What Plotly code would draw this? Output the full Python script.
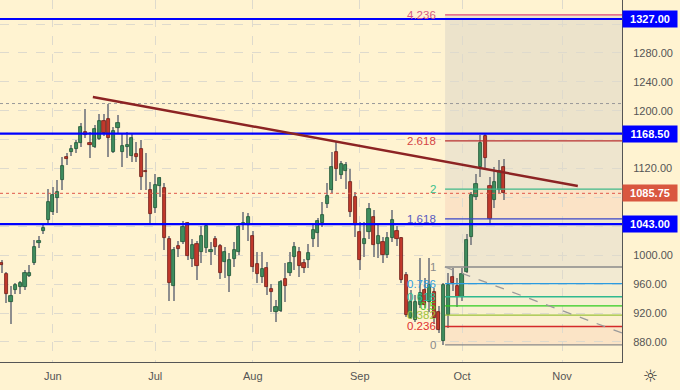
import plotly.graph_objects as go

# ---------------- data (bar index, OHLC) ----------------
opens = [989, 974, 935, 951.5, 955.7, 956.5, 972, 990, 1016.6, 1033.2,
         1049.3, 1060.5, 1079, 1103.8, 1136, 1143.4, 1147.6, 1155, 1170, 1155,
         1150.4, 1161.4, 1185.4, 1188, 1142.6, 1175.7, 1143.4, 1150.4, 1138, 1140,
         1147, 1117, 1090.4, 1066, 1096.3, 1093, 1022, 957, 1012.5, 1019,
         1044, 994.5, 1015.6, 1004, 1009.7, 1005, 1022, 1013, 991, 972,
         994.5, 1004, 1043, 1042, 1027, 988, 969.5, 982, 954, 922,
         923, 966.7, 976, 998, 1004, 989, 993, 1022, 1031, 1044,
         1071, 1090, 1142.6, 1111, 1117, 1101, 1080, 1032, 1015.6, 1032.7,
         1053.5, 1016, 1019, 1000, 1023.5, 1033, 1023.5, 973, 913, 910.5,
         931.4, 952, 936, 949, 921, 882, 917, 970, 957.5, 942,
         977, 1025, 1080, 1122, 1165, 1096, 1076, 1090.5, 1122.6]
highs = [993, 977, 957, 962, 964, 979, 986, 1021, 1027, 1043,
         1092, 1095, 1104, 1136.5, 1142, 1152, 1160, 1183.5, 1203, 1171,
         1180, 1195.5, 1195, 1209.4, 1177, 1194, 1169, 1171, 1169, 1157,
         1159.6, 1141.6, 1102, 1113, 1109, 1100, 1026, 1012, 1020, 1048,
         1046, 1023, 1020, 1040.5, 1043, 1018, 1026, 1015, 1011.5, 1003,
         1018, 1044, 1060, 1058, 1033, 1005, 1005, 991, 960, 938,
         966, 989, 1005, 1019, 1011.5, 995, 1015, 1044, 1051, 1074,
         1099.6, 1143, 1157, 1130, 1128.5, 1119, 1087, 1046.5, 1046.5, 1073,
         1062, 1042, 1025, 1032, 1063, 1040, 1025, 977, 952, 945,
         996, 968, 996, 955, 930, 961, 975, 982, 968, 982,
         1030, 1088, 1113, 1166.5, 1169, 1109, 1122.6, 1132, 1133]
lows = [975, 934, 905, 947, 947, 952, 970, 986, 1010, 1029,
        1045, 1056, 1058, 1090, 1125, 1137, 1142, 1150, 1163, 1134,
        1148, 1159.6, 1165, 1136.6, 1141, 1169, 1121.6, 1135, 1129.5, 1129.5,
        1090, 1090, 1044, 1058, 1081, 1008, 937, 937, 997, 1015,
        993, 984, 966, 990, 1003, 986, 1000, 967, 968, 949.6,
        984, 1001, 1035, 1020, 977, 961, 961, 945, 922, 908,
        922, 936, 972, 980, 970, 976, 982, 1011, 1011, 1039.6,
        1065, 1086, 1103, 1106, 1092, 1053.5, 1025, 979.6, 998, 1022,
        998, 996, 990, 996, 1019, 1013, 962, 915, 912, 908,
        926.6, 926.6, 922, 905, 893, 876, 899, 951, 928, 937,
        975, 1014, 1076.5, 1108, 1118, 1044, 1065, 1086, 1076.5]
closes = [986, 946, 944, 958.5, 961, 975.5, 976, 1011, 1019.8, 1037.4,
          1073.3, 1083, 1087.6, 1123, 1133, 1146.6, 1155, 1177, 1166, 1153,
          1174.3, 1185.4, 1168.8, 1162, 1171.6, 1182.6, 1151, 1152, 1162, 1136.5,
          1109, 1115, 1056.8, 1097, 1106.6, 1023.6, 962, 1008, 1009, 1039,
          999.5, 1014, 985.6, 1026, 1040.5, 1007, 1012, 975, 1004, 993.5,
          1008, 1038.7, 1045, 1052.6, 984, 973.7, 981, 956.6, 949.6, 928,
          962.6, 958, 989, 1011, 985.6, 982, 1003, 1035, 1047.5, 1056,
          1082, 1121.8, 1119.5, 1127, 1125, 1059.6, 1042, 993.5, 1022, 1064,
          1014, 1026, 1000, 1024, 1049, 1022, 966, 917.4, 936, 936,
          947.6, 931, 959, 913, 897, 959, 959, 962, 942, 974,
          1021, 1083, 1098.6, 1156, 1134, 1050, 1102, 1116, 1085.75]
bar_idx = list(range(len(closes)))

month_labels = ["Jun", "Jul", "Aug", "Sep", "Oct", "Nov"]
month_start_idx = [11, 33, 54, 77, 99, 120.5]

y_ticks = [880, 920, 960, 1000, 1040, 1080, 1120, 1160, 1200, 1240, 1280, 1320]
y_hidden = [1040, 1080, 1160, 1320]

# horizontal levels (blue) and current price
key_levels = [1327.00, 1168.50, 1043.00]
last_price = 1085.75
prev_high_level = 1210

# trendline (bar index, price)
trend_x = [19.6, 123.9]
trend_y = [1219.1, 1095.9]

# fib extension
fib_start_idx = 95.35
fib_zero = 876.0
fib_one = 983.8
fib_levels = [0, 0.236, 0.382, 0.5, 0.618, 0.786, 1, 1.618, 2, 2.618, 4.236]
fib_label_text = ["0", "0.236", "0.382", "0.5", "0.618", "0.786", "1", "1.618", "2", "2.618", "4.236"]
fib_colors = ["#8a8a8a", "#d42a2a", "#9bc23a", "#2ecc1f", "#2fb98f", "#2a9be0",
              "#8a8a8a", "#3a44c8", "#3cb98a", "#b83030", "#e0457a"]
fib_label_colors = ["#8a8a8a", "#e03030", "#9bc23a", "#4ccc22", "#2bbf94", "#2f9ddf",
                    "#8a8a8a", "#5a5ac0", "#3cc08c", "#d44545", "#d65a80"]
fib_zone_colors = ["#fbe4c6", "#fbf0cf", "#f8f0d0", "#f6efd2", "#f5eed3", "#f2ead2",
                   "#efe6cf", "#fbe3c6", "#eee5ce", "#ece3cb"]
fib_diag_x = [95.3, 133.4]
fib_diag_y = [983.8, 892.5]

X_RANGE = [-0.37, 133.4]
Y_RANGE = [852.3, 1353.3]

BG = "#fff3d1"
AXIS_TXT = "#555555"

# ---------------- figure ----------------
fig = go.Figure()

wick_len = [h - l for h, l in zip(highs, lows)]
fig.add_trace(go.Bar(x=bar_idx, y=wick_len, base=lows, width=0.3,
                     marker=dict(color="#8e8e8e", line=dict(width=0)),
                     hoverinfo="skip"))

body_base = [min(o, c) for o, c in zip(opens, closes)]
body_len = [max(abs(c - o), 1.2) for o, c in zip(opens, closes)]
up = [c >= o for o, c in zip(opens, closes)]
fill_cols = ["#3f8d5e" if u else "#c2392c" for u in up]
edge_cols = ["#1d5534" if u else "#6f1c15" for u in up]
fig.add_trace(go.Bar(x=bar_idx, y=body_len, base=body_base, width=0.68,
                     marker=dict(color=fill_cols, line=dict(color=edge_cols, width=0.8)),
                     hoverinfo="skip"))

shapes = []
# fib zones
fib_prices = [fib_zero + lv * (fib_one - fib_zero) for lv in fib_levels]
for k in range(len(fib_prices) - 1):
    shapes.append(dict(type="rect", xref="x", yref="y", layer="below",
                       x0=fib_start_idx, x1=X_RANGE[1], y0=fib_prices[k], y1=fib_prices[k + 1],
                       fillcolor=fib_zone_colors[k], line=dict(width=0)))
# fib lines
for p, col in zip(fib_prices, fib_colors):
    shapes.append(dict(type="line", xref="x", yref="y", layer="above",
                       x0=fib_start_idx, x1=X_RANGE[1], y0=p, y1=p,
                       line=dict(color=col, width=1.3)))
# fib diagonal dashed
shapes.append(dict(type="line", xref="x", yref="y", layer="above",
                   x0=fib_diag_x[0], x1=fib_diag_x[1], y0=fib_diag_y[0], y1=fib_diag_y[1],
                   line=dict(color="#9a9a9a", width=1.3, dash="dash")))
# previous high dotted
shapes.append(dict(type="line", xref="paper", yref="y", layer="above",
                   x0=0, x1=1, y0=prev_high_level, y1=prev_high_level,
                   line=dict(color="#999999", width=1, dash="dot")))
# current price dotted
shapes.append(dict(type="line", xref="paper", yref="y", layer="above",
                   x0=0, x1=1, y0=last_price, y1=last_price,
                   line=dict(color="#e0574a", width=1, dash="dot")))
# key blue levels
for lv in key_levels:
    shapes.append(dict(type="line", xref="paper", yref="y", layer="above",
                       x0=0, x1=1, y0=lv, y1=lv,
                       line=dict(color="#0000ff", width=2.2)))
# trendline
shapes.append(dict(type="line", xref="x", yref="y", layer="above",
                   x0=trend_x[0], x1=trend_x[1], y0=trend_y[0], y1=trend_y[1],
                   line=dict(color="#8c2323", width=2.4)))

annotations = []
for p, txt, col in zip(fib_prices, fib_label_text, fib_label_colors):
    annotations.append(dict(x=fib_start_idx, y=p, xref="x", yref="y",
                            text=txt, showarrow=False, xanchor="right", yanchor="middle",
                            xshift=-7, font=dict(family="Liberation Sans, Arial", size=11.5, color=col)))
for lv in key_levels:
    annotations.append(dict(x=1, y=lv, xref="paper", yref="y", text="<b>%.2f</b>" % lv,
                            showarrow=False, xanchor="left", yanchor="middle",
                            bgcolor="#0000ff", width=52, height=14, borderpad=1,
                            font=dict(family="Liberation Sans, Arial", size=11, color="white")))
annotations.append(dict(x=1, y=last_price, xref="paper", yref="y", text="<b>%.2f</b>" % last_price,
                        showarrow=False, xanchor="left", yanchor="middle",
                        bgcolor="#d9573f", width=52, height=14, borderpad=1,
                        font=dict(family="Liberation Sans, Arial", size=11, color="white")))
annotations.append(dict(x=1.0466, y=-0.039, xref="paper", yref="paper", text="☼",
                        showarrow=False, xanchor="center", yanchor="middle",
                        font=dict(family="DejaVu Sans", size=17, color="#333333")))

y_ticktext = ["" if v in y_hidden else "%.2f" % v for v in y_ticks]

fig.update_layout(
    width=680, height=390,
    margin=dict(l=0, r=58, t=0, b=28),
    paper_bgcolor=BG, plot_bgcolor=BG,
    showlegend=False, barmode="overlay", bargap=0,
    shapes=shapes, annotations=annotations,
    xaxis=dict(range=X_RANGE, tickmode="array", tickvals=month_start_idx, ticktext=month_labels,
               showgrid=True, gridcolor="#dedacd", griddash="dash", gridwidth=1,
               zeroline=False, showline=True, linecolor="#555555", linewidth=1,
               ticks="", ticklabelstandoff=4,
               tickfont=dict(family="Liberation Sans, Arial", size=11, color=AXIS_TXT),
               fixedrange=True),
    yaxis=dict(range=Y_RANGE, side="right", tickmode="array", tickvals=y_ticks, ticktext=y_ticktext,
               showgrid=True, gridcolor="#dedacd", griddash="dash", gridwidth=1,
               zeroline=False, showline=True, linecolor="#555555", linewidth=1,
               ticks="", ticklabelstandoff=8,
               tickfont=dict(family="Liberation Sans, Arial", size=11, color=AXIS_TXT),
               fixedrange=True),
)

fig.write_html("out.html")
